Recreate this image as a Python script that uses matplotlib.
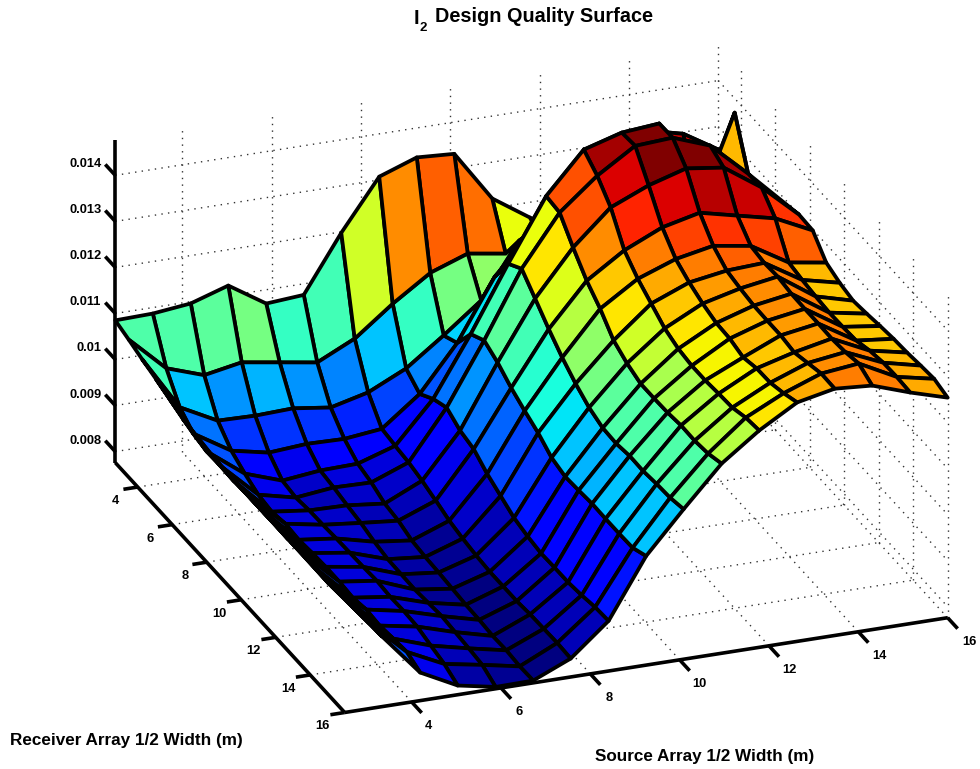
"""I2 design quality surface, 3D view with reversed receiver axis."""
import warnings

import matplotlib
matplotlib.use("Agg")
import matplotlib.pyplot as plt
import numpy as np
from mpl_toolkits.mplot3d import proj3d

nan = float("nan")

# Source half width (17 columns), receiver half width (18 rows)
source_width = [2.5, 3.34, 4.19, 5.03, 5.88, 6.72, 7.56, 8.41, 9.25, 10.09, 10.94, 11.78, 12.63,
                13.47, 14.31, 15.16, 16.0]
receiver_width = [2.7, 3.48, 4.26, 5.05, 5.83, 6.61, 7.39, 8.18, 8.96, 9.74, 10.52, 11.31, 12.09,
                  12.87, 13.65, 14.44, 15.22, 16.0]

# Quality values x 1e-4, one list per source width
q00 = [108.5, 107.5, 106.4, 105.4, 104.3, 103.1, 102.2, 101.9, 101.9, 101.8, 101.9, 101.9, 102, 101.9, 102.1, 102, 101.9, 102.4]
q01 = [108.7, 100, 94.7, 92.2, 91.5, 91.6, 91.5, 91.7, 91.7, 91.8, 91.7, 91.9, 91.8, 91.7, 92.2, 92.3, 92.6, 92.8]
q02 = [109.6, 97.2, 90.5, 87.2, 85.4, 84, 83.5, 84.1, 83.8, 84.1, 84.3, 84.3, 84, 84.6, 84.3, 84.7, 85, 83.7]
q03 = [112.2, 98.7, 90.3, 85.5, 82.6, 82.1, 82.5, 82.6, 82.8, 82.9, 83, 83.2, 82.9, 83, 82.8, 81.9, 81.1, 79.6]
q04 = [107, 97.4, 90.6, 86.1, 83.5, 83, 82.3, 81.7, 80.8, 80.2, 80.1, 80, 80.3, 80.6, 80.3, 80, 79.6, 78]
q05 = [107.6, 96.1, 89.5, 85.9, 83.7, 82.8, 81.4, 80.9, 79.8, 79.4, 79.2, 78.9, 78.6, 78.5, 78.2, 78.3, 78, 78.1]
q06 = [119.8, 100, 91.5, 86.8, 86.3, 85.9, 85.1, 84, 82.8, 82.1, 81.6, 81.3, 81.3, 81.3, 81.6, 81.7, 81.8, 81.6]
q07 = [130.7, 106.3, 95.4, 93.1, 95.2, 96.5, 94.7, 93.9, 91.7, 90.1, 88.5, 87.7, 87.2, 87.3, 87.3, 87.7, 88.3, 88.5]
q08 = [133.6, 111.7, 101.3, 102.9, 108, 109.8, 108.2, 105.9, 104.1, 102.5, 100.3, 99.4, 99.6, 99.9, 99.8, 99.8, 99.9, 101.3]
q09 = [133.1, 114.6, 107.6, 116, 122, 124.1, 120.8, 117.4, 114.4, 111.9, 109.9, 108.7, 108.5, 109, 108.9, 109.3, 109.5, 110.2]
q10 = [122.1, 113.3, 119.3, 124.7, 135.4, 135, 130.6, 126.6, 123.7, 120, 118.2, 117, 117, 117.1, 117.5, 117.4, 117.8, 118.8]
q11 = [116.7, 114.8, 123.5, 132.2, 144.2, 141.7, 138, 131.9, 128.9, 126.7, 124.5, 123.3, 122.8, 122.8, 123.1, 123.3, 124.3, 124.7]
q12 = [111.5, 114.6, 126.5, 139.6, 146.6, 146.9, 141.5, 135.6, 131.9, 130, 128.6, 127.6, 127.4, 126.5, 127.3, 127.4, 128.3, 129.5]
q13 = [110.2, 115.4, 127.4, 142.6, 147.3, 147.4, 143.9, 137.5, 133.5, 131.3, 130.6, 130.1, 130, 130, 129.5, 130.4, 131.3, 131.2]
q14 = [108.9, 114.1, 125, 140.6, 127, 144.4, 142.8, 135.6, 132.2, 131.7, 131.9, 131.4, 131.3, 131.3, 131.2, 131.5, 132.2, 130.6]
q15 = [105.4, 110.7, 121.5, 135.6, 147.1, 137, 137.2, 133.7, 127.3, 126.7, 126.3, 126, 126.1, 126.3, 127.3, 127.9, 128, 127.8]
q16 = [nan, nan, nan, nan, nan, nan, 130, 129.8, 126, 124.8, 124.1, 124.5, 125, 125.4, 125.6, 126, 126.3, 125.4]

x_ticks = [4, 6, 8, 10, 12, 14, 16]
y_ticks = [4, 6, 8, 10, 12, 14, 16]
z_ticks = [0.008, 0.009, 0.01, 0.011, 0.012, 0.013, 0.014]
z_tick_labels = ["0.008", "0.009", "0.01", "0.011", "0.012", "0.013", "0.014"]

plt.rcParams["font.family"] = ["Liberation Sans", "DejaVu Sans"]
plt.rcParams["font.weight"] = "bold"

xlo, xhi = 2.5, 16.0
ylo, yhi = 2.7, 16.0
zlo, zhi = 0.00776, 0.01476

cols = [q00, q01, q02, q03, q04, q05, q06, q07, q08, q09, q10, q11, q12, q13, q14, q15, q16]
Z = np.array(cols).T * 1e-4
X, Y = np.meshgrid(source_width, receiver_width)

fig = plt.figure(figsize=(9.8, 7.69), dpi=100)
# oversized square axes so nothing is clipped at its box
ax = fig.add_axes([-33.4 / 980, -174.9 / 769, 1100 / 980, 1100 / 769], projection="3d",
                  computed_zorder=False)
ax.set_proj_type("ortho")
ax.view_init(elev=24.44, azim=-110.8)
ax.set_box_aspect((645, 646, 354), zoom=0.8641)
ax.set_xlim(xlo, xhi)
ax.set_ylim(yhi, ylo)  # receiver axis runs towards the viewer
ax.set_zlim(zlo, zhi)
ax.set_axis_off()

# dotted grid on floor and the two back walls
dots = dict(color="#333333", lw=1.0, ls=(0, (1, 3.8)), zorder=1)
for x in x_ticks:
    ax.plot([x, x], [yhi, ylo], [zlo, zlo], **dots)
    ax.plot([x, x], [ylo, ylo], [zlo, zhi], **dots)
for y in y_ticks:
    ax.plot([xlo, xhi], [y, y], [zlo, zlo], **dots)
    ax.plot([xhi, xhi], [y, y], [zlo, zhi], **dots)
for z in z_ticks:
    ax.plot([xlo, xhi], [ylo, ylo], [z, z], **dots)
    ax.plot([xhi, xhi], [ylo, yhi], [z, z], **dots)

# flat faces coloured from their first corner
cmap = plt.get_cmap("jet", 64)
span = np.nanmax(Z) - np.nanmin(Z)
colors = cmap((np.nan_to_num(Z, nan=np.nanmin(Z)) - np.nanmin(Z)) / span)
with warnings.catch_warnings():
    warnings.simplefilter("ignore")
    surf = ax.plot_surface(X, Y, Z, rstride=1, cstride=1, facecolors=colors, shade=False,
                           linewidth=2.7, antialiased=True, zorder=5)
surf.set_edgecolor("black")

# axis lines and ticks
axis = dict(color="black", lw=2.6, solid_capstyle="butt", zorder=6)
ax.plot([xlo, xlo], [ylo, ylo], [zlo, zhi], **axis)
ax.plot([xlo, xlo], [ylo, yhi], [zlo, zlo], **axis)
ax.plot([xlo, xhi], [yhi, yhi], [zlo, zlo], **axis)


def tick_label(x, y, z, text, dx, dy, ha="center"):
    """Label placed in pixels from a projected axis point."""
    px, py, _ = proj3d.proj_transform(x, y, z, ax.get_proj())
    ax.annotate(text, xy=(px, py), xycoords="data", xytext=(dx, dy), textcoords="offset pixels",
                ha=ha, va="center", fontsize=9.3, fontweight="bold", zorder=7, annotation_clip=False)


for x in x_ticks:
    ax.plot([x, x], [yhi, yhi + 0.58], [zlo, zlo], **axis)
    tick_label(x, yhi, zlo, str(x), 17 + (x - 4) * 0.4, -24)
for y in y_ticks:
    ax.plot([xlo, xlo - 0.32], [y, y], [zlo, zlo], **axis)
    tick_label(xlo, y, zlo, str(y), -22, -14)
for z, lab in zip(z_ticks, z_tick_labels):
    ax.plot([xlo, xlo], [ylo, ylo - 0.58], [z, z], **axis)
    tick_label(xlo, ylo, z, lab, -14, 11, ha="right")

fig.text(414 / 980, 1 - 18 / 769, "I", ha="left", va="center", fontsize=14.3, fontweight="bold")
fig.text(419 / 980, 1 - 28 / 769, "2", ha="left", va="center", fontsize=9.5, fontweight="bold")
fig.text(435 / 980, 1 - 17 / 769, "Design Quality Surface", ha="left", va="center",
         fontsize=14.3, fontweight="bold")
fig.text(10 / 980, 1 - 741 / 769, "Receiver Array 1/2 Width (m)", ha="left", va="center",
         fontsize=12.3, fontweight="bold")
fig.text(595 / 980, 1 - 757 / 769, "Source Array 1/2 Width (m)", ha="left", va="center",
         fontsize=12.3, fontweight="bold")

fig.savefig("out.png", dpi=100)
